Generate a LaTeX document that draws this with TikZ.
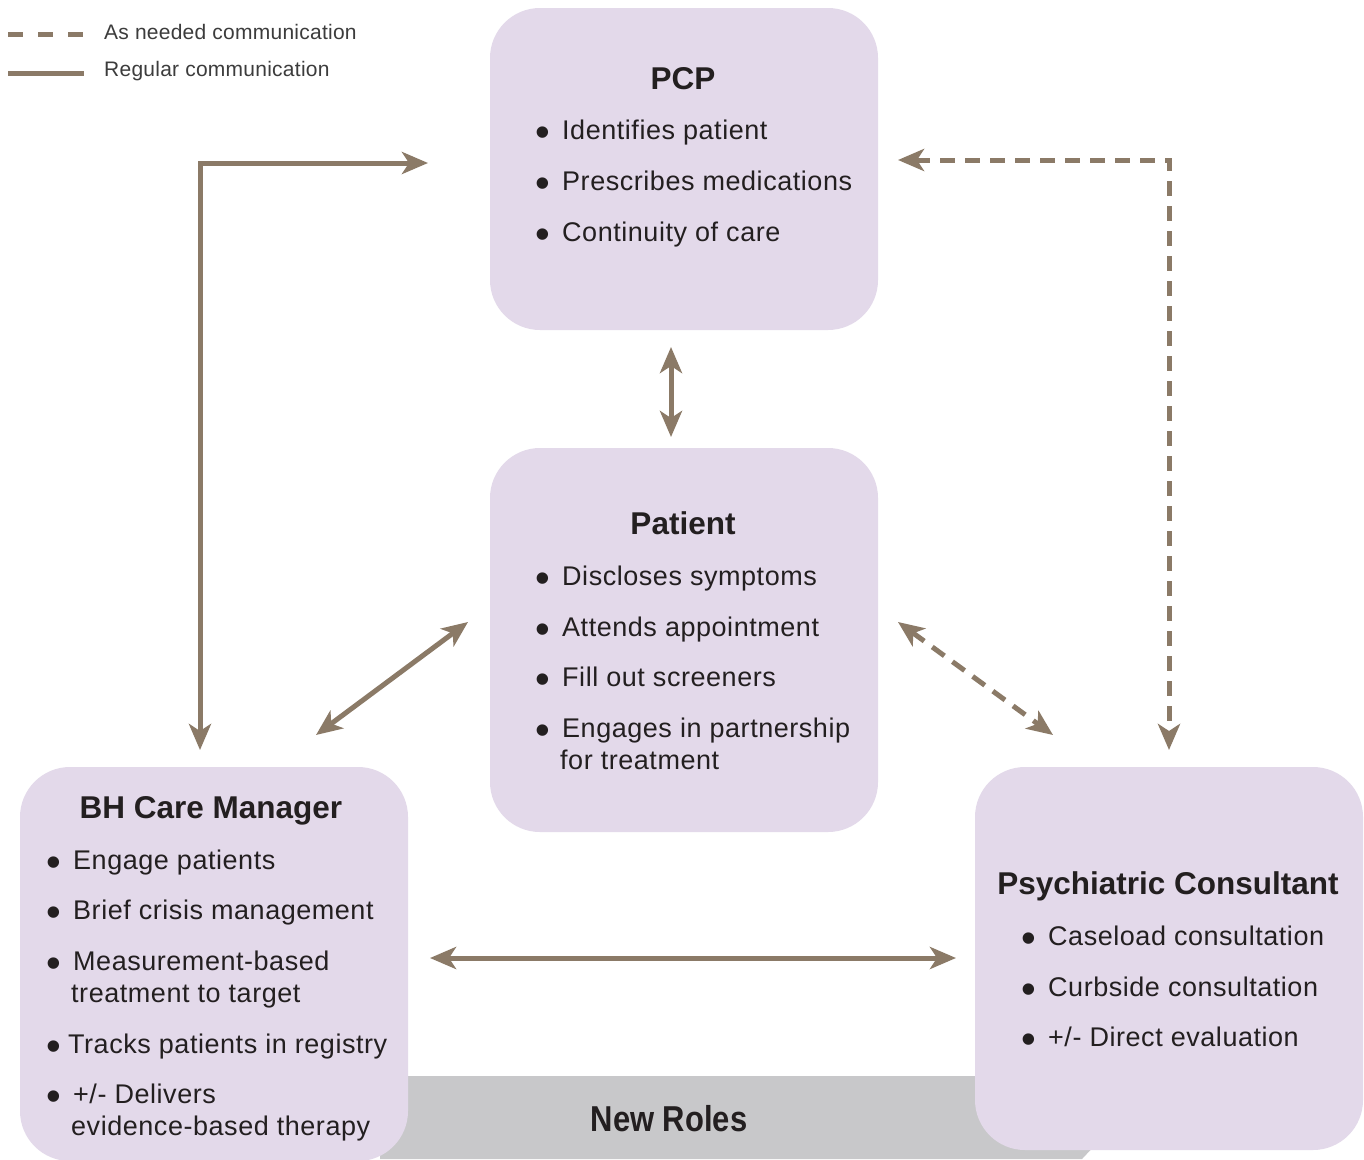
\documentclass[tikz,border=0pt]{standalone}
\usepackage{fontspec}
\setmainfont{Liberation Sans}
\usetikzlibrary{arrows.meta}
\definecolor{boxfill}{HTML}{E3D9EA}
\definecolor{arrowc}{HTML}{8B7A67}
\definecolor{barc}{HTML}{C8C8CA}
\definecolor{txt}{HTML}{231F20}
\definecolor{legtxt}{HTML}{3C3C3C}
\newcommand{\bul}[1][25pt]{\makebox[#1][l]{\hspace{-2pt}\raisebox{-7pt}{\fontsize{42}{42}\selectfont\addfontfeature{LetterSpace=0}•}}}
\begin{document}
\begin{tikzpicture}[x=1pt,y=-1pt,
 rolebox/.style={fill=boxfill,rounded corners=50pt,minimum width=388pt,minimum height=#1,inner sep=0pt,draw=none},
 title/.style={font=\fontsize{31.5}{36}\selectfont\bfseries,text=txt,anchor=base,inner sep=0pt},
 item/.style={font=\fontsize{27}{31}\selectfont\addfontfeature{LetterSpace=2},text=txt,anchor=base west,inner sep=0pt},
 legtext/.style={font=\fontsize{21}{24}\selectfont\addfontfeature{LetterSpace=1.2},text=legtxt,anchor=base west,inner sep=0pt},
 tipx/.tip={Stealth[length=26pt,width=22pt,inset=7pt]},
 conn/.style={draw=arrowc,line width=5pt,tipx-tipx},
 asneeded/.style={conn,dash pattern=on 15pt off 10pt},
 legline/.style={draw=arrowc,line width=5pt},
]
\useasboundingbox (0,0) rectangle (1364,1159);
\fill[white] (0,0) rectangle (1364,1159);

% gray bar
\fill[barc] (380,1076) -- (1010,1076) -- (1010,1142) -- (1098,1142) -- (1082,1159) -- (380,1159) -- cycle;
\node[font=\fontsize{36}{40}\selectfont\bfseries,text=txt,anchor=base,inner sep=0pt] (newroles) at (669,1131) {\scalebox{0.86}[1]{New Roles}};

% boxes
\node[rolebox=322pt] (pcp) at (684,169) {};
\node[rolebox=384pt] (patient) at (684,640) {};
\node[rolebox=394pt] (bh) at (214,964) {};
\node[rolebox=383pt] (psych) at (1169,958.5) {};

% PCP text
\node[title] (pcpt) at (683,89) {PCP};
\node[item] (pcp1) at (537,139) {\bul Identifies patient};
\node[item] (pcp2) at (537,190) {\bul Prescribes medications};
\node[item] (pcp3) at (537,241) {\bul Continuity of care};

% Patient text
\node[title] (patt) at (683,534) {Patient};
\node[item] (pat1) at (537,585) {\bul Discloses symptoms};
\node[item] (pat2) at (537,636) {\bul Attends appointment};
\node[item] (pat3) at (537,686) {\bul Fill out screeners};
\node[item] (pat4) at (537,737) {\bul Engages in partnership};
\node[item] (pat5) at (560,769) {for treatment};

% BH text
\node[title] (bht) at (211,818) {BH Care Manager};
\node[item] (bh1) at (48,869) {\bul Engage patients};
\node[item] (bh2) at (48,919) {\bul Brief crisis management};
\node[item] (bh3) at (48,970) {\bul Measurement-based};
\node[item] (bh4) at (71,1002) {treatment to target};
\node[item] (bh5) at (48,1053) {\bul[20pt]Tracks patients in registry};
\node[item] (bh6) at (48,1103) {\bul +/- Delivers};
\node[item] (bh7) at (71,1135) {evidence-based therapy};

% Psych text
\node[title] (pst) at (1168,894) {Psychiatric Consultant};
\node[item] (ps1) at (1023,945) {\bul Caseload consultation};
\node[item] (ps2) at (1023,996) {\bul Curbside consultation};
\node[item] (ps3) at (1023,1046) {\bul +/- Direct evaluation};

% legend
\coordinate (l1a) at (8,34);
\coordinate (l1b) at (84,34);
\coordinate (l2a) at (8,73);
\coordinate (l2b) at (84,73);
\draw[legline,dash pattern=on 15pt off 15pt] (l1a) -- (l1b);
\draw[legline] (l2a) -- (l2b);
\node[legtext] (leg1) at (104,39) {As needed communication};
\node[legtext] (leg2) at (104,76) {Regular communication};

% connectors
\coordinate (a1s) at (428,163);
\coordinate (a1c) at (200,163);
\coordinate (a1e) at (200,750);
\draw[conn] (a1s) -- (a1c) -- (a1e);

\coordinate (a2s) at (898,160);
\coordinate (a2c) at (1169,160);
\coordinate (a2e) at (1169,750);
\draw[asneeded] (a2s) -- (a2c) -- (a2e);

\coordinate (a3s) at (671,347);
\coordinate (a3e) at (671,437);
\draw[conn] (a3s) -- (a3e);

\coordinate (a4s) at (468,622);
\coordinate (a4e) at (316,735);
\draw[conn] (a4s) -- (a4e);

\coordinate (a5s) at (898,622);
\coordinate (a5e) at (1053,735);
\draw[asneeded] (a5s) -- (a5e);

\coordinate (a6s) at (430,958);
\coordinate (a6e) at (956,958);
\draw[conn] (a6s) -- (a6e);
\end{tikzpicture}
\end{document}
